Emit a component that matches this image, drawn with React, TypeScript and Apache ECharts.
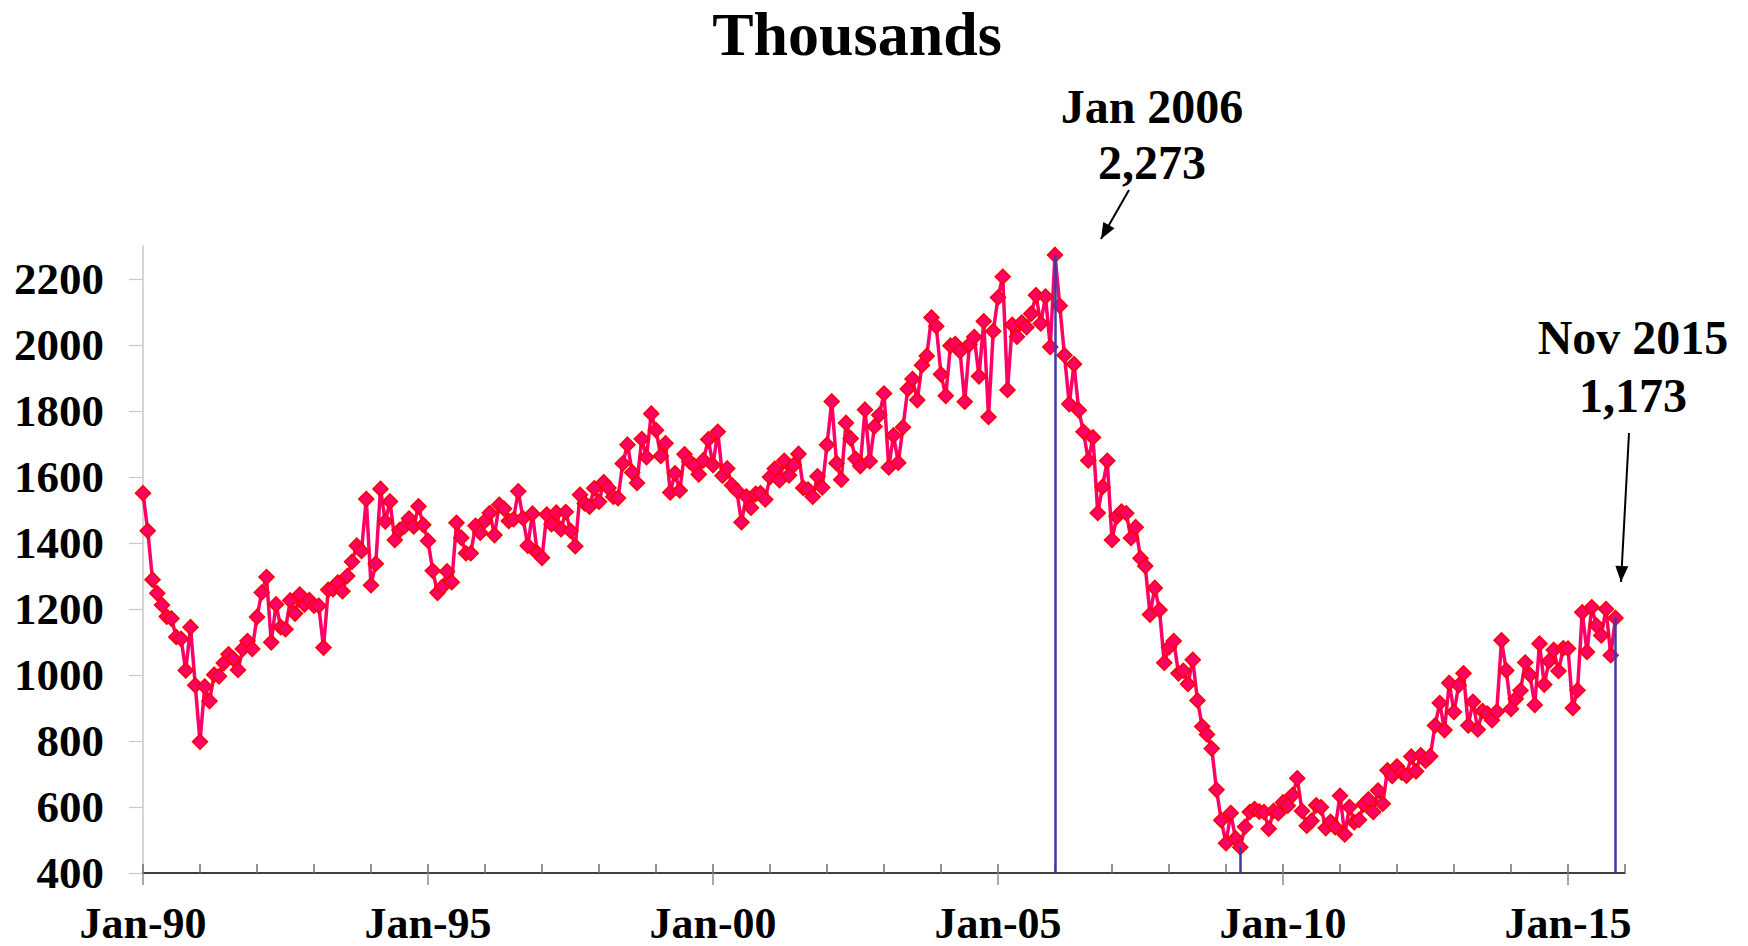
import React, { useEffect, useRef } from "react";
import * as echarts from "echarts";

// US housing starts, monthly, SAAR (thousands), Jan 1990 .. Nov 2015
const starts1990_1994 = [
  1551, 1437, 1289, 1248, 1212, 1177, 1171, 1115, 1110, 1014, 1145, 969,
  798, 965, 921, 1001, 996, 1036, 1063, 1049, 1015, 1079, 1103, 1079,
  1176, 1250, 1297, 1099, 1214, 1145, 1139, 1226, 1186, 1244, 1214, 1227,
  1210, 1210, 1083, 1258, 1260, 1280, 1254, 1300, 1343, 1392, 1376, 1533,
  1272, 1337, 1564, 1465, 1526, 1409, 1439, 1450, 1474, 1450, 1511, 1455,
];
const starts1995_1999 = [
  1407, 1316, 1249, 1267, 1314, 1281, 1461, 1416, 1369, 1369, 1452, 1431,
  1467, 1491, 1424, 1516, 1504, 1467, 1472, 1557, 1475, 1392, 1489, 1370,
  1355, 1486, 1457, 1492, 1442, 1494, 1437, 1390, 1546, 1520, 1510, 1566,
  1525, 1584, 1567, 1540, 1536, 1641, 1698, 1614, 1582, 1715, 1660, 1792,
  1742, 1664, 1702, 1553, 1611, 1559, 1669, 1648, 1635, 1608, 1651, 1714,
];
const starts2000_2004 = [
  1636, 1737, 1604, 1626, 1575, 1559, 1463, 1541, 1507, 1549, 1551, 1532,
  1600, 1625, 1590, 1649, 1605, 1636, 1670, 1567, 1562, 1540, 1602, 1568,
  1698, 1829, 1642, 1592, 1764, 1717, 1655, 1633, 1804, 1648, 1753, 1788,
  1853, 1629, 1726, 1643, 1751, 1867, 1897, 1833, 1939, 1967, 2083, 2057,
  1911, 1846, 1998, 2003, 1981, 1828, 2002, 2024, 1905, 2072, 1782, 2042,
];
const starts2005_2009 = [
  2144, 2207, 1864, 2061, 2025, 2068, 2054, 2095, 2151, 2065, 2147, 1994,
  2273, 2119, 1969, 1821, 1942, 1802, 1737, 1650, 1720, 1491, 1570, 1649,
  1409, 1480, 1495, 1490, 1415, 1448, 1354, 1330, 1183, 1264, 1197, 1037,
  1084, 1103, 1005, 1013, 973, 1046, 923, 844, 820, 777, 652, 560,
  490, 582, 505, 478, 540, 585, 594, 586, 585, 534, 588, 581,
];
const starts2010_2015 = [
  614, 604, 636, 687, 588, 543, 558, 605, 599, 536, 555, 539,
  634, 517, 600, 554, 561, 608, 623, 585, 650, 610, 711, 694,
  723, 704, 695, 753, 708, 757, 740, 754, 847, 915, 833, 976,
  888, 969, 1005, 847, 919, 835, 891, 883, 863, 889, 1105, 1014,
  897, 928, 953, 1038, 1000, 909, 1095, 971, 1042, 1076, 1012, 1081,
  1080, 900, 954, 1190, 1070, 1205, 1150, 1120, 1200, 1060, 1173,
];

const xTickLabels = ["Jan-90", "Jan-95", "Jan-00", "Jan-05", "Jan-10", "Jan-15"];
const xMaxMonth = 312; // Jan 2016
const yTicks = [400, 600, 800, 1000, 1200, 1400, 1600, 1800, 2000, 2200];

const FONT = "'Liberation Serif', 'Times New Roman', serif";

function arrowHead(x1: number, y1: number, x2: number, y2: number, len: number, wid: number) {
  const dx = x2 - x1;
  const dy = y2 - y1;
  const d = Math.hypot(dx, dy);
  const ux = dx / d;
  const uy = dy / d;
  const bx = x2 - ux * len;
  const by = y2 - uy * len;
  const px = -uy * wid / 2;
  const py = ux * wid / 2;
  return [
    [x2, y2],
    [bx + px, by + py],
    [bx - px, by - py],
  ];
}

export default function App() {
  const ref = useRef<HTMLDivElement>(null);

  useEffect(() => {
    if (!ref.current) return;
    const chart = echarts.init(ref.current, null, { renderer: "svg" });

    const values = [
      ...starts1990_1994,
      ...starts1995_1999,
      ...starts2000_2004,
      ...starts2005_2009,
      ...starts2010_2015,
    ];
    const data = values.map((v, i) => [i, v]);

    let peakIdx = 0;
    values.forEach((v, i) => {
      if (v > values[peakIdx]) peakIdx = i;
    });
    let troughIdx = peakIdx;
    for (let i = peakIdx; i < values.length; i++) {
      if (values[i] < values[troughIdx]) troughIdx = i;
    }
    const lastIdx = values.length - 1;
    const dropLine = (i: number) => [
      { coord: [i, values[i]] },
      { coord: [i, yTicks[0]] },
    ];

    const a1 = { x1: 1129, y1: 190, x2: 1101, y2: 239 };
    const a2 = { x1: 1629, y1: 433, x2: 1621, y2: 582 };

    chart.setOption({
      animation: false,
      backgroundColor: "#ffffff",
      grid: { left: 143, right: 123, top: 246, bottom: 73, containLabel: false },
      xAxis: [
        {
          type: "value",
          min: 0,
          max: xMaxMonth,
          interval: 60,
          axisLine: { show: true, lineStyle: { color: "#000000", width: 1.5 } },
          axisTick: {
            show: true,
            inside: false,
            length: 12,
            customValues: xTickLabels.map((_, k) => k * 60),
            lineStyle: { color: "#8c8c8c", width: 1.5 },
          },
          axisLabel: {
            show: true,
            margin: 28,
            customValues: xTickLabels.map((_, k) => k * 60),
            formatter: (v: number) => xTickLabels[Math.round(v / 60)] ?? "",
            fontFamily: FONT,
            fontWeight: "bold",
            fontSize: 44,
            color: "#000000",
          },
          splitLine: { show: false },
        },
        {
          type: "value",
          min: 0,
          max: xMaxMonth,
          interval: 12,
          position: "bottom",
          axisLine: { show: false },
          axisTick: {
            show: true,
            inside: true,
            length: 9,
            customValues: Array.from({ length: xMaxMonth / 12 + 1 }, (_, k) => k * 12),
            lineStyle: { color: "#6e6e6e", width: 1.5 },
          },
          axisLabel: { show: false },
          splitLine: { show: false },
        },
      ],
      yAxis: {
        type: "value",
        min: 400,
        max: 2300,
        interval: 200,
        axisLine: { show: true, lineStyle: { color: "#c8c8c8", width: 1.5 } },
        axisTick: {
          show: true,
          length: 14,
          customValues: yTicks,
          lineStyle: { color: "#c8c8c8", width: 1.2 },
        },
        axisLabel: {
          margin: 39,
          customValues: yTicks,
          formatter: (v: number) => String(v),
          fontFamily: FONT,
          fontWeight: "bold",
          fontSize: 45,
          color: "#000000",
        },
        splitLine: { show: false },
      },
      series: [
        {
          type: "line",
          data,
          xAxisIndex: 0,
          yAxisIndex: 0,
          symbol: "diamond",
          symbolSize: 15,
          lineStyle: { color: "#ff0066", width: 3.5 },
          itemStyle: { color: "#ff0066", borderColor: "#ff0000", borderWidth: 1.5 },
          markLine: {
            silent: true,
            symbol: ["none", "none"],
            label: { show: false },
            lineStyle: { color: "#3b3ba8", width: 2.5, type: "solid" },
            data: [dropLine(peakIdx), dropLine(troughIdx), dropLine(lastIdx)],
          },
          z: 3,
        },
      ],
      graphic: [
        {
          type: "text",
          x: 857,
          y: 34,
          style: {
            text: "Thousands",
            fontFamily: FONT,
            fontWeight: "bold",
            fontSize: 62,
            fill: "#000000",
            align: "center",
            verticalAlign: "middle",
          },
        },
        {
          type: "text",
          x: 1152,
          y: 134,
          style: {
            text: "Jan 2006\n2,273",
            fontFamily: FONT,
            fontWeight: "bold",
            fontSize: 48,
            lineHeight: 56,
            fill: "#000000",
            align: "center",
            verticalAlign: "middle",
          },
        },
        {
          type: "text",
          x: 1633,
          y: 366,
          style: {
            text: "Nov 2015\n1,173",
            fontFamily: FONT,
            fontWeight: "bold",
            fontSize: 48,
            lineHeight: 58,
            fill: "#000000",
            align: "center",
            verticalAlign: "middle",
          },
        },
        {
          type: "line",
          shape: { x1: a1.x1, y1: a1.y1, x2: a1.x2, y2: a1.y2 },
          style: { stroke: "#000000", lineWidth: 2 },
        },
        {
          type: "polygon",
          shape: { points: arrowHead(a1.x1, a1.y1, a1.x2, a1.y2, 16, 13) },
          style: { fill: "#000000" },
        },
        {
          type: "line",
          shape: { x1: a2.x1, y1: a2.y1, x2: a2.x2, y2: a2.y2 },
          style: { stroke: "#000000", lineWidth: 2 },
        },
        {
          type: "polygon",
          shape: { points: arrowHead(a2.x1, a2.y1, a2.x2, a2.y2, 16, 13) },
          style: { fill: "#000000" },
        },
      ],
    });

    return () => chart.dispose();
  }, []);

  return (
    <div
      ref={ref}
      style={{ position: "fixed", left: 0, top: 0, width: 1748, height: 946, background: "#fff" }}
    />
  );
}
